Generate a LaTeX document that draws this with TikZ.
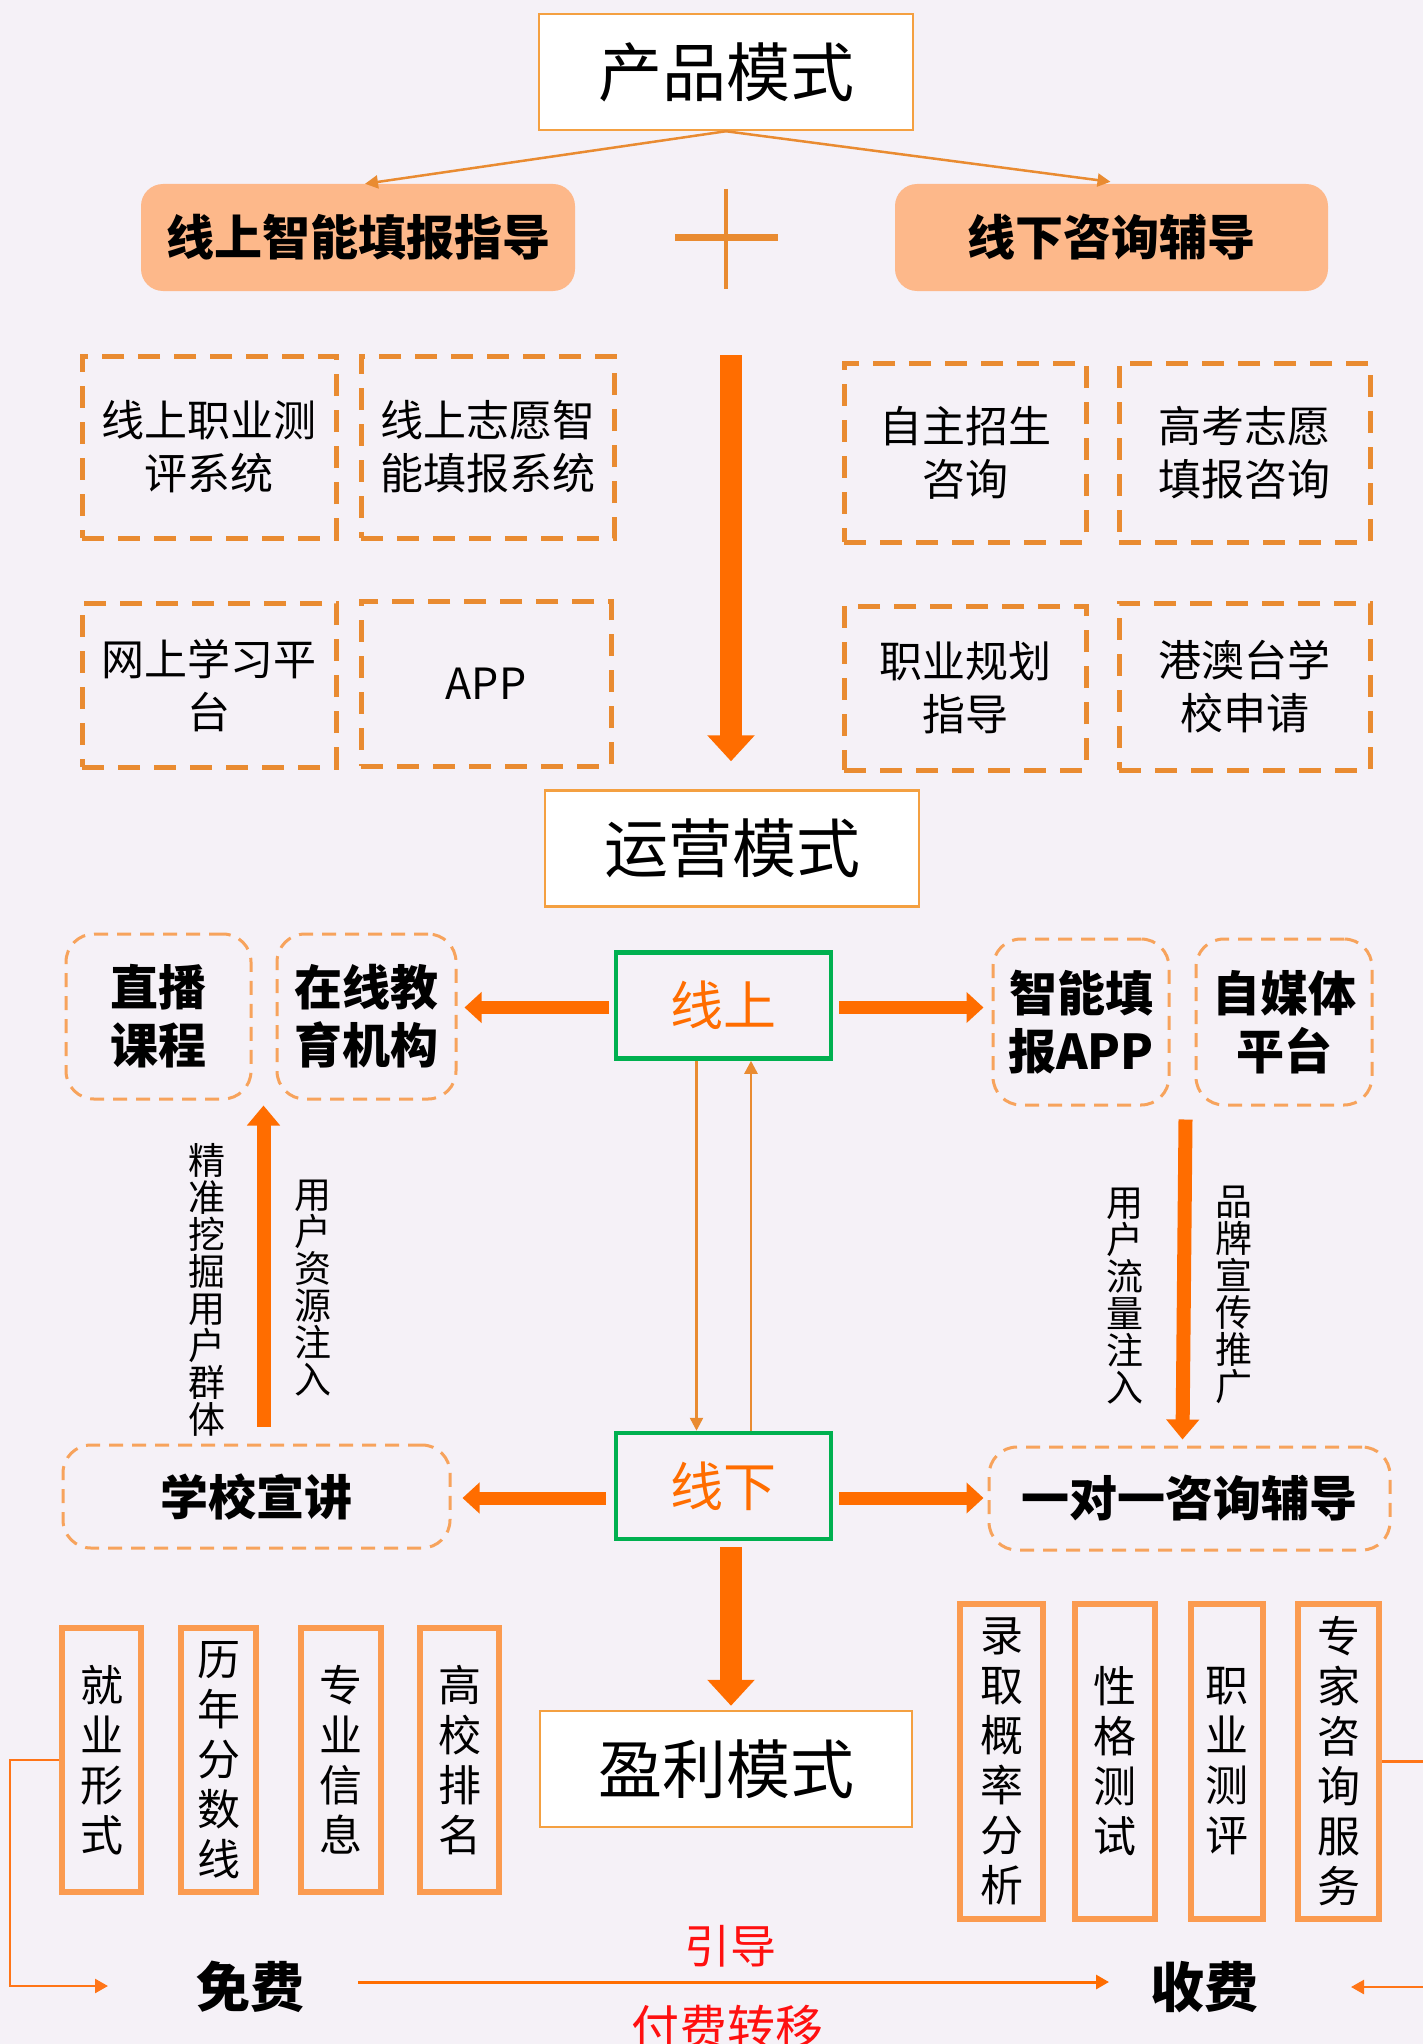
\documentclass[tikz,border=0pt]{standalone}
\usepackage{fontspec}
\setmainfont{Noto Sans CJK SC}
\usetikzlibrary{arrows.meta,calc}
\definecolor{bg}{HTML}{F5F1F7}
\definecolor{boxor}{HTML}{F4A041}
\definecolor{peach}{HTML}{FDB88A}
\definecolor{dor}{HTML}{E98B31}
\definecolor{bor}{HTML}{FF6D00}
\definecolor{lor}{HTML}{F7A35C}
\definecolor{sor}{HTML}{FB9B50}
\definecolor{grn}{HTML}{00B050}
\definecolor{brk}{HTML}{FF7518}
\definecolor{redt}{HTML}{FF1010}
\begin{document}
\begin{tikzpicture}[x=1pt,y=-1pt,
  modebox/.style={draw=boxor, line width=2.5pt, fill=white, minimum width=374pt, minimum height=116pt, inner sep=0pt, font=\fontsize{64}{64}\selectfont},
  peachbox/.style={fill=peach, rounded corners=22pt, inner sep=0pt, minimum height=107pt, font=\bfseries\fontsize{48}{48}\selectfont},
  dbox/.style={draw=dor, line width=5pt, dash pattern=on 22pt off 14pt, inner sep=0pt, align=center, font=\fontsize{43}{53}\selectfont},
  rbox/.style={draw=lor, line width=3pt, dash pattern=on 14pt off 9pt, rounded corners=28pt, inner sep=0pt, align=center, font=\bfseries\fontsize{48}{58}\selectfont},
  gbox/.style={draw=grn, line width=4.5pt, inner sep=0pt, minimum width=215pt, minimum height=106pt, text=bor, font=\fontsize{53}{53}\selectfont},
  vbox/.style={draw=sor, line width=6pt, inner sep=0pt, align=center, font=\fontsize{43}{50}\selectfont},
  vlab/.style={inner sep=0pt, align=center, font=\fontsize{37}{37}\selectfont},
  bigarr/.style={draw=bor, line width=22pt, -{Triangle[width=46pt,length=26pt]}},
  harr/.style={draw=bor, line width=13pt, -{Triangle[width=30pt,length=17pt]}},
  varr/.style={draw=bor, line width=14pt, -{Triangle[width=32pt,length=20pt]}},
  thinarr/.style={draw=dor, line width=2.5pt, -{Triangle[width=13pt,length=13pt]}},
  brkarr/.style={draw=brk, line width=2.5pt, -{Triangle[width=14pt,length=13pt]}}
]
\useasboundingbox (0,0) rectangle (1423,2044);
\clip (0,0) rectangle (1423,2044);
\fill[bg] (0,0) rectangle (1423,2044);

% ---------- product model ----------
\node[modebox] (prod) at (726,72) {产品模式};
\node[peachbox, minimum width=434pt] (og) at (358,237.5) {线上智能填报指导};
\node[peachbox, minimum width=433pt] (fg) at (1111.5,237.5) {线下咨询辅导};
\draw[thinarr] (prod.south) -- ($(og.north)+(7,0)$);
\draw[thinarr] (prod.south) -- ($(fg.north)+(-1,-2)$);
% plus sign
\draw[dor, line width=4pt] (726,189) -- (726,289);
\draw[dor, line width=7pt] (675,238) -- (778,238);

\node[dbox, minimum width=254pt, minimum height=182pt] (b1) at (209,447) {线上职业测\\评系统};
\node[dbox, minimum width=253pt, minimum height=182pt] (b2) at (487.5,447) {线上志愿智\\能填报系统};
\node[dbox, minimum width=254pt, minimum height=164pt] (b3) at (209,685) {网上学习平\\台};
\node[dbox, minimum width=250pt, minimum height=165pt] (b4) at (486,683.5) {APP};
\node[dbox, minimum width=242pt, minimum height=179pt] (b5) at (965,452.5) {自主招生\\咨询};
\node[dbox, minimum width=251pt, minimum height=179pt] (b6) at (1244.5,452.5) {高考志愿\\填报咨询};
\node[dbox, minimum width=242pt, minimum height=164pt] (b7) at (965,688) {职业规划\\指导};
\node[dbox, minimum width=251pt, minimum height=167pt] (b8) at (1244.5,686.5) {港澳台学\\校申请};

% ---------- operation model ----------
\node[modebox] (ops) at (732,848.5) {运营模式};
\draw[bigarr] ($(prod.south)+(5,224)$) -- ($(ops.north)+(-1,-28)$);

\node[gbox] (on) at (723.5,1005.5) {线上};
\node[gbox] (off) at (723.5,1486) {线下};

\node[rbox, minimum width=185pt, minimum height=165pt] (c1) at (158.5,1016.5) {直播\\课程};
\node[rbox, minimum width=179pt, minimum height=165pt] (c2) at (366.5,1016.5) {在线教\\育机构};
\node[rbox, minimum width=176pt, minimum height=166pt] (c3) at (1081,1022) {智能填\\报APP};
\node[rbox, minimum width=176pt, minimum height=166pt] (c4) at (1284,1022) {自媒体\\平台};
\node[rbox, minimum width=387pt, minimum height=103pt] (c5) at (256.5,1496.5) {学校宣讲};
\node[rbox, minimum width=401pt, minimum height=103pt] (c6) at (1189.5,1498.5) {一对一咨询辅导};

\draw[harr] ($(on.west)+(-5,2)$) -- ($(on.west -| c2.east)+(7,2)$);
\draw[harr] ($(on.east)+(6,2)$) -- ($(on.east -| c3.west)+(-8,2)$);
\draw[harr] ($(off.west)+(-8,12)$) -- ($(off.west -| c5.east)+(11,12)$);
\draw[harr] ($(off.east)+(6,12)$) -- ($(off.east -| c6.west)+(-4,12)$);

\draw[thinarr] ($(on.south)+(-27,0)$) -- ($(off.north)+(-27,0)$);
\draw[thinarr] ($(off.north)+(27.5,0)$) -- ($(on.south)+(27.5,0)$);

\draw[varr] ($(c5.north west)+(202,-17)$) -- ($(c1.south west)+(199,5)$);
\draw[varr] ($(c3.south east)+(15,13)$) -- ($(c6.north west)+(195,-6)$);

\node[vlab] (l1) at (207,1290) {精\\准\\挖\\掘\\用\\户\\群\\体};
\node[vlab] (l2) at (313,1288) {用\\户\\资\\源\\注\\入};
\node[vlab] (l3) at (1125,1296) {用\\户\\流\\量\\注\\入};
\node[vlab] (l4) at (1234,1295) {品\\牌\\宣\\传\\推\\广};

% ---------- profit model ----------
\node[modebox, minimum width=372pt] (profit) at (726,1769) {盈利模式};
\draw[bigarr] ($(off.south)+(7.5,6)$) -- ($(profit.north)+(5,-4)$);

\node[vbox, minimum width=79pt, minimum height=264pt] (d1) at (101.5,1760) {就\\业\\形\\式};
\node[vbox, minimum width=75pt, minimum height=264pt] (d2) at (218.5,1760) {历\\年\\分\\数\\线};
\node[vbox, minimum width=80pt, minimum height=264pt] (d3) at (341,1760) {专\\业\\信\\息};
\node[vbox, minimum width=79pt, minimum height=264pt] (d4) at (459.5,1760) {高\\校\\排\\名};

\node[vbox, minimum width=83pt, minimum height=315pt] (e1) at (1001.5,1761.5) {录\\取\\概\\率\\分\\析};
\node[vbox, minimum width=80pt, minimum height=315pt] (e2) at (1115,1761.5) {性\\格\\测\\试};
\node[vbox, minimum width=72pt, minimum height=315pt] (e3) at (1227,1761.5) {职\\业\\测\\评};
\node[vbox, minimum width=81pt, minimum height=315pt] (e4) at (1338.5,1761.5) {专\\家\\咨\\询\\服\\务};

\node[inner sep=0pt, font=\bfseries\fontsize{54}{54}\selectfont] (free) at (250,1987) {免费};
\node[inner sep=0pt, font=\bfseries\fontsize{54}{54}\selectfont] (charge) at (1204,1987) {收费};
\draw[draw=bor, line width=3pt, -{Triangle[width=14pt,length=13pt]}] ($(free.center)+(108,-5)$) -- ($(charge.center)+(-95,-5)$);
\node[inner sep=0pt, text=redt, font=\fontsize{46}{46}\selectfont] (lead) at (730,1946) {引导};
\node[inner sep=0pt, text=redt, font=\fontsize{48}{48}\selectfont] (pay) at (727,2027) {付费转移};

\draw[brkarr] (d1.west) -| ($(d1.west)+(-49,226)$) -- ($(d1.west)+(49,226)$);
\draw[brkarr] (e4.east) -| ($(e4.east)+(70,225.5)$) -- ($(e4.east)+(-31,225.5)$);
\end{tikzpicture}
\end{document}
